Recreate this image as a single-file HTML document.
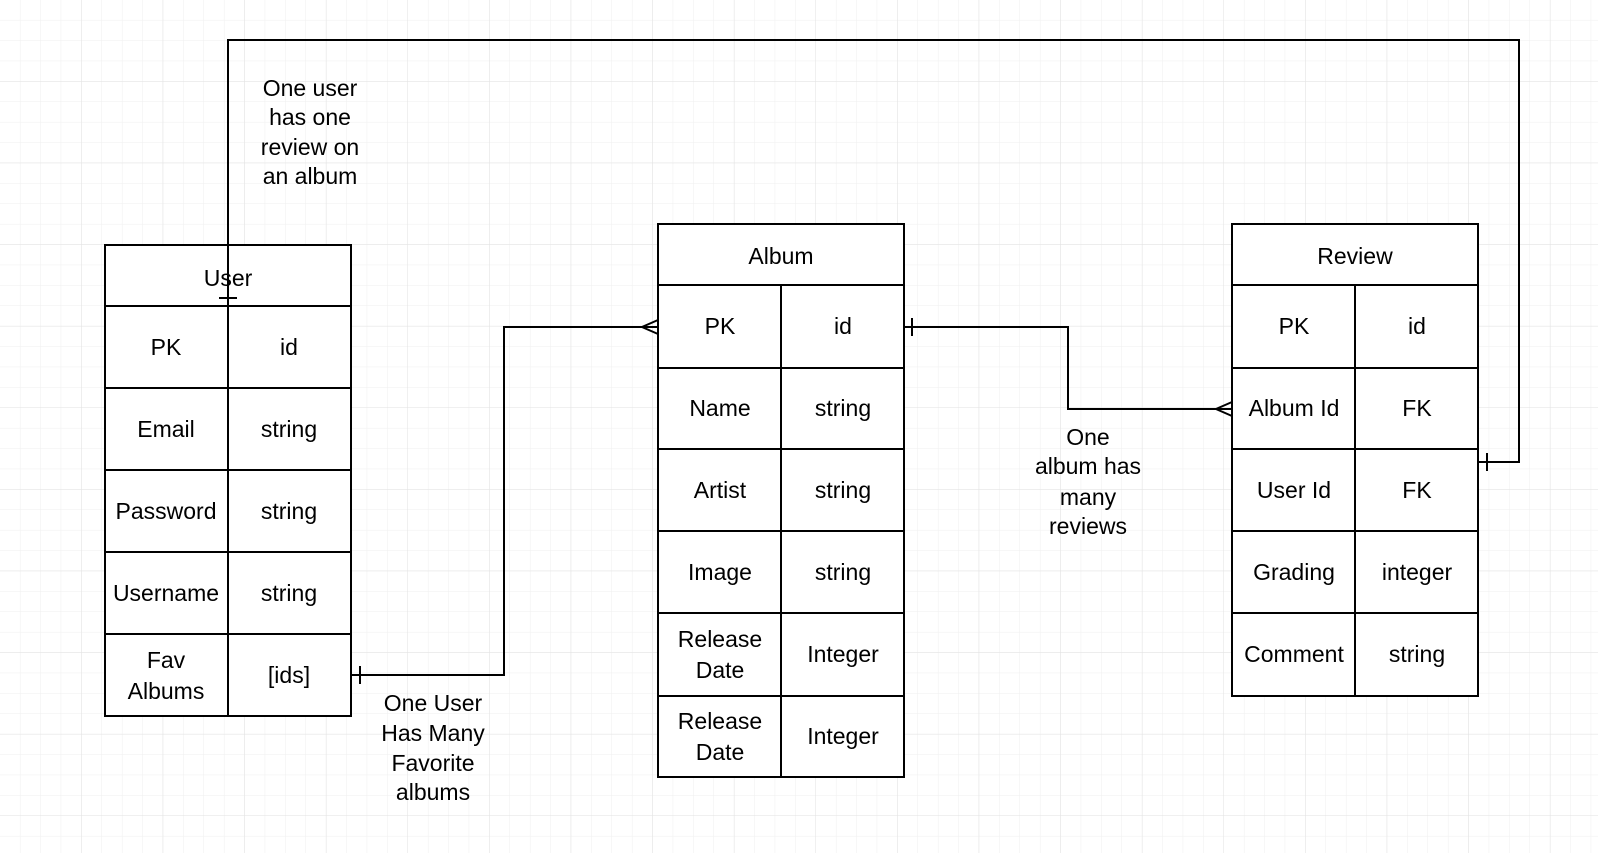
<!DOCTYPE html>
<html><head><meta charset="utf-8"><style>
html,body{margin:0;padding:0;background:#fff;}
svg{display:block;}
text{font-family:"Liberation Sans",Arial,sans-serif;font-size:23px;fill:#000;}
</style></head><body>
<svg width="1598" height="853" viewBox="0 0 1598 853" xmlns="http://www.w3.org/2000/svg">
<defs>
<pattern id="g" width="20.4" height="20.4" patternUnits="userSpaceOnUse"><path d="M20.4 0V20.4H0" fill="none" stroke="#efefef" stroke-width="1"/></pattern>
<pattern id="G" width="81.6" height="81.6" patternUnits="userSpaceOnUse"><path d="M81.6 0V81.6H0" fill="none" stroke="#e2e2e2" stroke-width="1"/></pattern>
</defs>
<rect width="1598" height="853" fill="url(#g)"/>
<rect width="1598" height="853" fill="url(#G)"/>
<g fill="#fff" stroke="#000" stroke-width="2">
<rect x="105" y="245" width="246" height="471"/>
<path d="M105 306H351M105 388H351M105 470H351M105 552H351M105 634H351M228 306V716"/>
<rect x="658" y="224" width="246" height="553"/>
<path d="M658 285H904M658 368H904M658 449H904M658 531H904M658 613H904M658 696H904M781 285V777"/>
<rect x="1232" y="224" width="246" height="472"/>
<path d="M1232 285H1478M1232 368H1478M1232 449H1478M1232 531H1478M1232 613H1478M1355 285V696"/>
</g>
<g fill="none" stroke="#000" stroke-width="2">
<path d="M228 306V40H1519V462H1478"/>
<path d="M219 298H237"/>
<path d="M1487 453V471"/>
<path d="M351 675H504V327H658"/>
<path d="M360 666V684"/>
<path d="M658 320L642 327L658 334"/>
<path d="M904 327H1068V409H1232"/>
<path d="M912 318V336"/>
<path d="M1232 402L1216 409L1232 416"/>
</g>
<g text-anchor="middle">
<text x="228" y="286">User</text>
<text x="166" y="355">PK</text><text x="289" y="355">id</text>
<text x="166" y="437">Email</text><text x="289" y="437">string</text>
<text x="166" y="519">Password</text><text x="289" y="519">string</text>
<text x="166" y="601">Username</text><text x="289" y="601">string</text>
<text x="166" y="668">Fav</text><text x="166" y="699">Albums</text><text x="289" y="683">[ids]</text>

<text x="781" y="264">Album</text>
<text x="720" y="334">PK</text><text x="843" y="334">id</text>
<text x="720" y="416">Name</text><text x="843" y="416">string</text>
<text x="720" y="498">Artist</text><text x="843" y="498">string</text>
<text x="720" y="580">Image</text><text x="843" y="580">string</text>
<text x="720" y="647">Release</text><text x="720" y="678">Date</text><text x="843" y="662">Integer</text>
<text x="720" y="729">Release</text><text x="720" y="760">Date</text><text x="843" y="744">Integer</text>

<text x="1355" y="264">Review</text>
<text x="1294" y="334">PK</text><text x="1417" y="334">id</text>
<text x="1294" y="416">Album Id</text><text x="1417" y="416">FK</text>
<text x="1294" y="498">User Id</text><text x="1417" y="498">FK</text>
<text x="1294" y="580">Grading</text><text x="1417" y="580">integer</text>
<text x="1294" y="662">Comment</text><text x="1417" y="662">string</text>

<text x="310" y="96">One user</text>
<text x="310" y="125">has one</text>
<text x="310" y="155">review on</text>
<text x="310" y="184">an album</text>

<text x="433" y="711">One User</text>
<text x="433" y="741">Has Many</text>
<text x="433" y="771">Favorite</text>
<text x="433" y="800">albums</text>

<text x="1088" y="445">One</text>
<text x="1088" y="474">album has</text>
<text x="1088" y="505">many</text>
<text x="1088" y="534">reviews</text>
</g>
</svg>
</body></html>
